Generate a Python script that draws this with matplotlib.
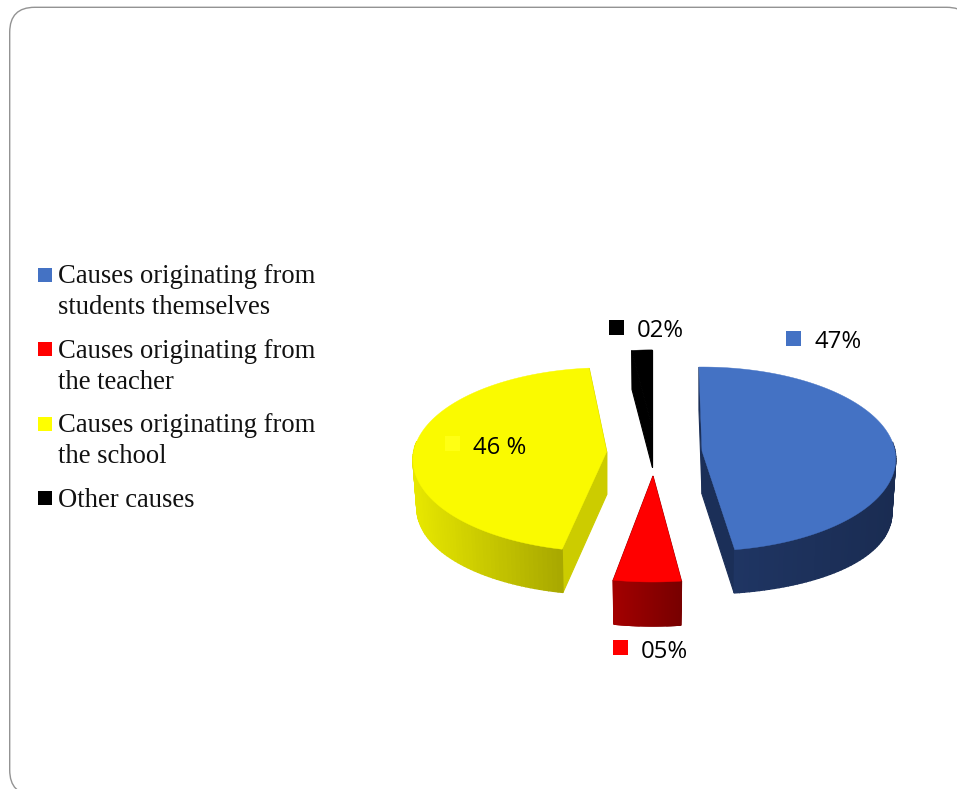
import numpy as np
import matplotlib
matplotlib.use("Agg")
import matplotlib.pyplot as plt
from matplotlib.patches import FancyBboxPatch, Rectangle
from matplotlib.colors import to_rgb

# ---- data ----
categories = ["Causes originating from\nstudents themselves",
              "Causes originating from\nthe teacher",
              "Causes originating from\nthe school",
              "Other causes"]
shares = [47, 5, 46, 2]
value_labels = ["47%", "05%", "46 %", "02%"]

# ---- styles ----
top_colors = ["#4472C4", "#FF0000", "#FAFA00", "#000000"]
legend_colors = ["#4472C4", "#FF0000", "#FFFF00", "#000000"]
wall_left = ["#1F3563", "#A40000", "#E8E800", "#000000"]
wall_right = ["#1A2C52", "#780000", "#A8A800", "#000000"]
face_colors = ["#1B2F58", "#8A0000", "#CCCC00", "#000000"]
marker_colors = ["#4472C4", "#FF0000", "#FFFF14", "#000000"]

apex_x = [702.0, 653.0, 606.7, 652.3]
apex_y = [451.0, 476.0, 451.7, 428.0]
start_deg = [91.0, -82.7, -102.2, 97.2]   # clockwise start of each slice
sweep_fit = [1.017, 0.975, 0.979, 1.0]
radius_fit = [1.0, 1.06, 1.0, 0.93]
depths = [43, 44, 43, 39]
side_extra = [11, 0, 5, 0]

RX, RY, PERSP = 193.0, 91.3, 0.087

marker_xy = [(786, 331), (613, 640), (445, 436), (609, 320)]
label_xy = [(814.5, 347.7), (640.8, 657.7), (472.7, 453.8), (636.8, 336.9)]
legend_sq_y = [267.7, 342, 417, 491]
legend_base_y = [283.4, 358, 432.4, 507.2]
LEG_LINE = 31

fig = plt.figure(figsize=(9.57, 7.89), dpi=100)
ax = fig.add_axes([0, 0, 1, 1])
ax.set_xlim(0, 957)
ax.set_ylim(789, 0)
ax.axis("off")

# slide frame
ax.add_patch(FancyBboxPatch((9.7, 7.3), 962, 787.7,
                            boxstyle="round,pad=0,rounding_size=25",
                            fc="white", ec="#939393", lw=1.0, zorder=0))


def rim(i, deg, low=False):
    t = np.radians(deg)
    u, v = np.cos(t) * radius_fit[i], np.sin(t) * radius_fit[i]
    s = 1 + PERSP * np.sin(t)
    x = RX * u / s
    y = -RY * v / s
    if low:
        x = x * 0.98
        y = y + depths[i] + side_extra[i] * np.cos(t) ** 2
    return apex_x[i] + x, apex_y[i] + y


def blend(a, b, f):
    a, b = np.array(to_rgb(a)), np.array(to_rgb(b))
    return tuple(a + (b - a) * f)


draw_order = [3, 0, 2, 1]
for i in draw_order:
    sweep = shares[i] / sum(shares) * 360 * sweep_fit[i]
    degs = np.linspace(start_deg[i], start_deg[i] - sweep, 120)
    z = 2 + draw_order.index(i) * 3

    # cut faces
    ends = [degs[0], degs[-1]]
    for d in ends:
        tx, ty = rim(i, d)
        bx, by = rim(i, d, low=True)
        ax.fill([apex_x[i], tx, bx, apex_x[i]],
                [apex_y[i], ty, by, apex_y[i] + depths[i]],
                color=face_colors[i], lw=0.8, zorder=z)

    # outer wall, shaded left to right
    pts_t = np.array([rim(i, d) for d in degs])
    pts_b = np.array([rim(i, d, low=True) for d in degs])
    front = np.where(np.sin(np.radians(degs)) < 0.12)[0]
    if front.size > 1:
        xs = pts_t[front, 0]
        x0, x1 = xs.min(), xs.max()
        order = sorted(zip(front[:-1], front[1:]), key=lambda p: pts_t[p[0], 0])
        for a, b in order:
            f = (0.5 * (pts_t[a, 0] + pts_t[b, 0]) - x0) / max(x1 - x0, 1)
            ax.fill([pts_t[a, 0], pts_t[b, 0], pts_b[b, 0], pts_b[a, 0]],
                    [pts_t[a, 1], pts_t[b, 1], pts_b[b, 1], pts_b[a, 1]],
                    color=blend(wall_left[i], wall_right[i], f), lw=1.0, zorder=z + 1)

    # top face
    ax.fill(np.r_[apex_x[i], pts_t[:, 0]], np.r_[apex_y[i], pts_t[:, 1]],
            color=top_colors[i], lw=0.3, zorder=z + 2)

# value labels with their markers
for (mx, my), (lx, ly), c, t in zip(marker_xy, label_xy, marker_colors, value_labels):
    ax.add_patch(Rectangle((mx, my), 15, 15, fc=c, ec="none", zorder=30))
    ax.text(lx, ly, t, family="Open Sans", fontsize=17.2, color="#000000",
            ha="left", va="baseline", zorder=31)

# legend
for c, sy, by, t in zip(legend_colors, legend_sq_y, legend_base_y, categories):
    ax.add_patch(Rectangle((38.3, sy), 14, 14, fc=c, ec="none", zorder=30))
    for k, line in enumerate(t.split("\n")):
        ax.text(57.5, by + k * LEG_LINE, line, family="Liberation Serif", fontsize=19.2,
                color="#111111", ha="left", va="baseline", zorder=31)

fig.savefig("out.png", dpi=100, facecolor="white")
